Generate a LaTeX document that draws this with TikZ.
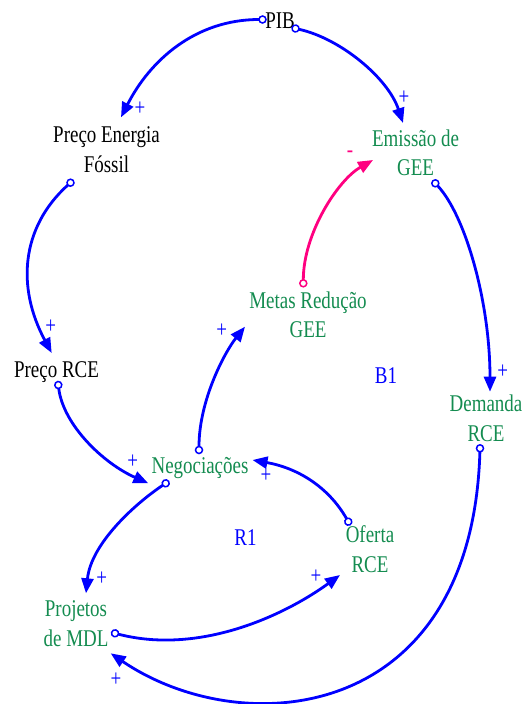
\documentclass[tikz,border=0pt]{standalone}
\usepackage{fontspec}
\setmainfont{Liberation Serif}[FakeStretch=0.79]
\usetikzlibrary{arrows.meta}
\definecolor{cldblue}{RGB}{0,0,255}
\definecolor{cldgreen}{RGB}{20,140,80}
\definecolor{cldpink}{RGB}{255,0,128}
\begin{document}
\begin{tikzpicture}[x=1pt,y=-1pt,
  lbl/.style={anchor=base,align=center,inner sep=0pt,font=\fontsize{24}{29.5}\selectfont},
  blk/.style={lbl,text=black},
  grn/.style={lbl,text=cldgreen},
  loopname/.style={lbl,text=cldblue},
  sgn/.style={anchor=center,inner sep=0pt,text=cldblue,font=\fontsize{24}{29.5}\selectfont},
  negsgn/.style={anchor=base,inner sep=0pt,text=cldpink,font=\fontsize{24}{29.5}\selectfont},
  link/.style={draw=cldblue,line width=2.8pt,
    {Circle[open,length=8.5pt,width=8.5pt,line width=1.5pt]}-{Triangle[length=15pt,width=12pt]},
    shorten <=-4.25pt},
  neglink/.style={link,draw=cldpink},
]
\useasboundingbox (0,0) rectangle (531,704);

% variables (base = baseline of the last line)
\node[blk] (pib) at (280,28) {PIB};
\node[blk] (pef) at (106.5,172.2) {Preço Energia\\Fóssil};
\node[grn] (emi) at (415.5,175.5) {Emissão de\\GEE};
\node[grn] (metas) at (308,337.5) {Metas Redução\\GEE};
\node[blk] (prce) at (56.5,377) {Preço RCE};
\node[grn] (dem) at (486,441.2) {Demanda\\RCE};
\node[grn] (neg) at (200,473) {Negociações};
\node[grn] (ofe) at (370,572.2) {Oferta\\RCE};
\node[grn] (proj) at (76,646.2) {Projetos\\de MDL};

% loop names
\node[loopname] (b1) at (386,383) {B1};
\node[loopname] (r1) at (245.5,545.7) {R1};

% links
\draw[link] ([shift={(-17.5,-8.5)}]pib.base) .. controls +(-67,0) and +(29,-57) .. ([shift={(14.5,-54.9)}]pef.base);
\draw[link] ([shift={(15.5,0.5)}]pib.base) .. controls +(45,10) and +(-15,-45) .. ([shift={(-12.5,-52.5)}]emi.base);
\draw[link] ([shift={(-36,10.5)}]pef.base) .. controls +(-50,45) and +(-35,-65) .. ([shift={(-4.8,-24)}]prce.base);
\draw[link] ([shift={(19.8,7.8)}]emi.base) .. controls +(30,32) and +(0,-90) .. ([shift={(4,-49.5)}]dem.base);
\draw[neglink] ([shift={(-4.7,-54.2)}]metas.base) .. controls +(0,-50) and +(-35,20) .. ([shift={(-42.5,-15.5)}]emi.base);
\draw[link] ([shift={(1.8,8)}]prce.base) .. controls +(5,40) and +(-45,-20) .. ([shift={(-51.7,10.3)}]neg.base);
\draw[link] ([shift={(-1,-23)}]neg.base) .. controls +(0,-50) and +(-20,25) .. ([shift={(-63,-10.8)}]metas.base);
\draw[link] ([shift={(-34.3,10.3)}]neg.base) .. controls +(-30,20) and +(5,-50) .. ([shift={(10,-52.9)}]proj.base);
\draw[link] ([shift={(-21.7,-50.5)}]ofe.base) .. controls +(-20,-35) and +(45,8) .. ([shift={(52.5,-13)}]neg.base);
\draw[link] ([shift={(39,-12.9)}]proj.base) .. controls +(85,22) and +(-55,40) .. ([shift={(-30,2.8)}]ofe.base);
\draw[link] ([shift={(-6,7.1)}]dem.base) .. controls +(-8,276) and +(131,89) .. ([shift={(34.7,7.1)}]proj.base);

% polarity signs
\node[sgn] (s1) at (140,108.3) {+};
\node[sgn] (s2) at (404,97.3) {+};
\node[sgn] (s3) at (50.7,326.7) {+};
\node[sgn] (s4) at (502.7,371.7) {+};
\node[sgn] (s5) at (221.7,330.7) {+};
\node[sgn] (s6) at (132.7,461.7) {+};
\node[sgn] (s7) at (101.7,578.3) {+};
\node[sgn] (s8) at (266,476) {+};
\node[sgn] (s9) at (316,576.7) {+};
\node[sgn] (s10) at (116,679.3) {+};
\node[negsgn] (sm) at (350,157.5) {-};
\end{tikzpicture}
\end{document}
